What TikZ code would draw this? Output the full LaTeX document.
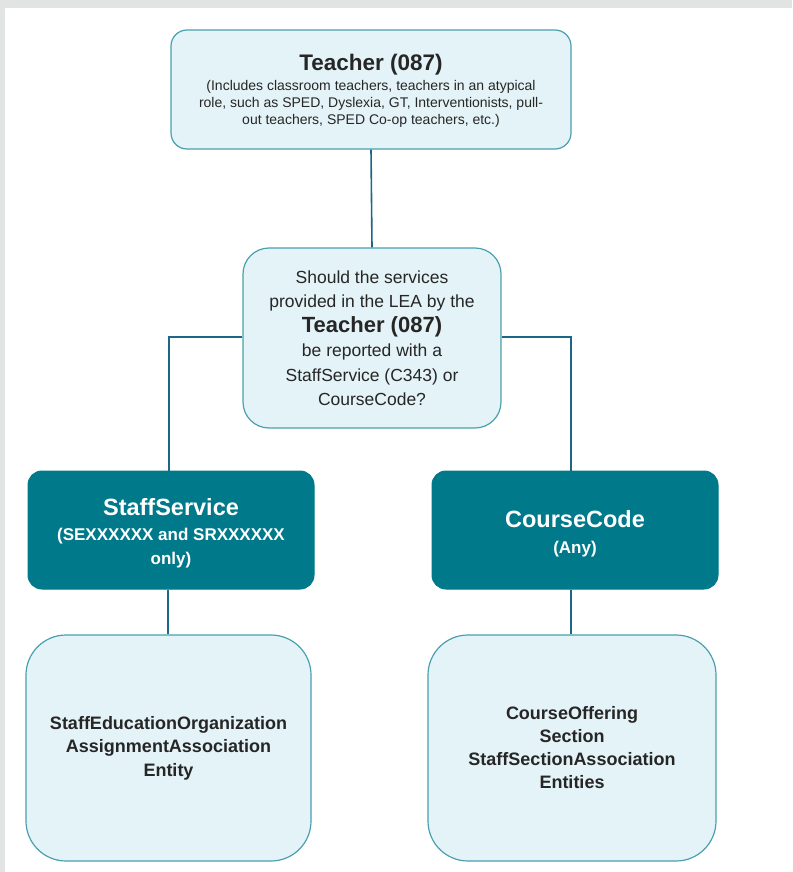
\documentclass[tikz,border=0pt]{standalone}
\usepackage{fontspec}
\setmainfont{Liberation Sans}
\definecolor{lightfill}{HTML}{E4F3F7}
\definecolor{boxline}{HTML}{4AA0AE}
\definecolor{darkteal}{HTML}{007A8A}
\definecolor{conn}{HTML}{1E6688}
\definecolor{frame}{HTML}{E2E3E3}
\begin{document}
\begin{tikzpicture}[x=1pt,y=-1pt,
  lightbox/.style={draw=boxline, line width=1.2pt, fill=lightfill, align=center, inner sep=0pt, text=black!85},
  darkbox/.style={draw=darkteal, line width=1pt, fill=darkteal, align=center, inner sep=0pt, text=white, rounded corners=14pt},
  link/.style={draw=conn, line width=1.6pt}]
\useasboundingbox (0,0) rectangle (792,872);
\fill[white] (0,0) rectangle (792,872);
\fill[frame] (0,0) rectangle (792,8);
\fill[frame] (0,0) rectangle (5,872);

\node[lightbox, rounded corners=16pt, minimum width=400pt, minimum height=119pt,
  font=\fontsize{14}{17}\selectfont] (teacher) at (371,89.5)
  {{\fontsize{22.5}{27}\selectfont\bfseries\rule{0pt}{19.5pt}Teacher (087)}\\[3pt]
   (Includes classroom teachers, teachers in an atypical\\
   role, such as SPED, Dyslexia, GT, Interventionists, pull-\\
   out teachers, SPED Co-op teachers, etc.)};

\node[lightbox, rounded corners=26pt, minimum width=258pt, minimum height=180pt,
  font=\fontsize{17.5}{24.5}\selectfont] (q) at (372,338)
  {Should the services\\
   provided in the LEA by the\\
   {\fontsize{22}{24}\selectfont\bfseries Teacher (087)}\\
   be reported with a\\
   StaffService (C343) or\\
   CourseCode?};

\node[darkbox, minimum width=286pt, minimum height=118pt,
  font=\fontsize{17}{24.5}\selectfont\bfseries] (ss) at (171,530)
  {{\fontsize{23.5}{25}\selectfont\rule{0pt}{24pt}StaffService}\\
   (SEXXXXXX and SRXXXXXX\\ only)};

\node[darkbox, minimum width=286pt, minimum height=118pt,
  font=\fontsize{17}{26}\selectfont\bfseries] (cc) at (575,530)
  {{\fontsize{23.5}{25}\selectfont\rule{0pt}{24pt}CourseCode}\\
   (Any)};

\node[lightbox, rounded corners=40pt, minimum width=285pt, minimum height=226pt,
  font=\fontsize{18}{23.5}\selectfont\bfseries] (sea) at (168.5,748)
  {StaffEducationOrganization\\
   AssignmentAssociation\\ Entity};

\node[lightbox, rounded corners=40pt, minimum width=288pt, minimum height=226pt,
  font=\fontsize{18}{23}\selectfont\bfseries] (co) at (572,748)
  {CourseOffering\\ Section\\ StaffSectionAssociation\\ Entities};

\draw[link] (teacher.south) -- (q.north);
\draw[link] (q.west |- 0,337) -| (ss.north -| 169,0);
\draw[link] (q.east |- 0,337) -| (cc.north -| 571,0);
\draw[link] (ss.south -| 168,0) -- (sea.north -| 168,0);
\draw[link] (cc.south -| 571,0) -- (co.north -| 571,0);
\end{tikzpicture}
\end{document}
